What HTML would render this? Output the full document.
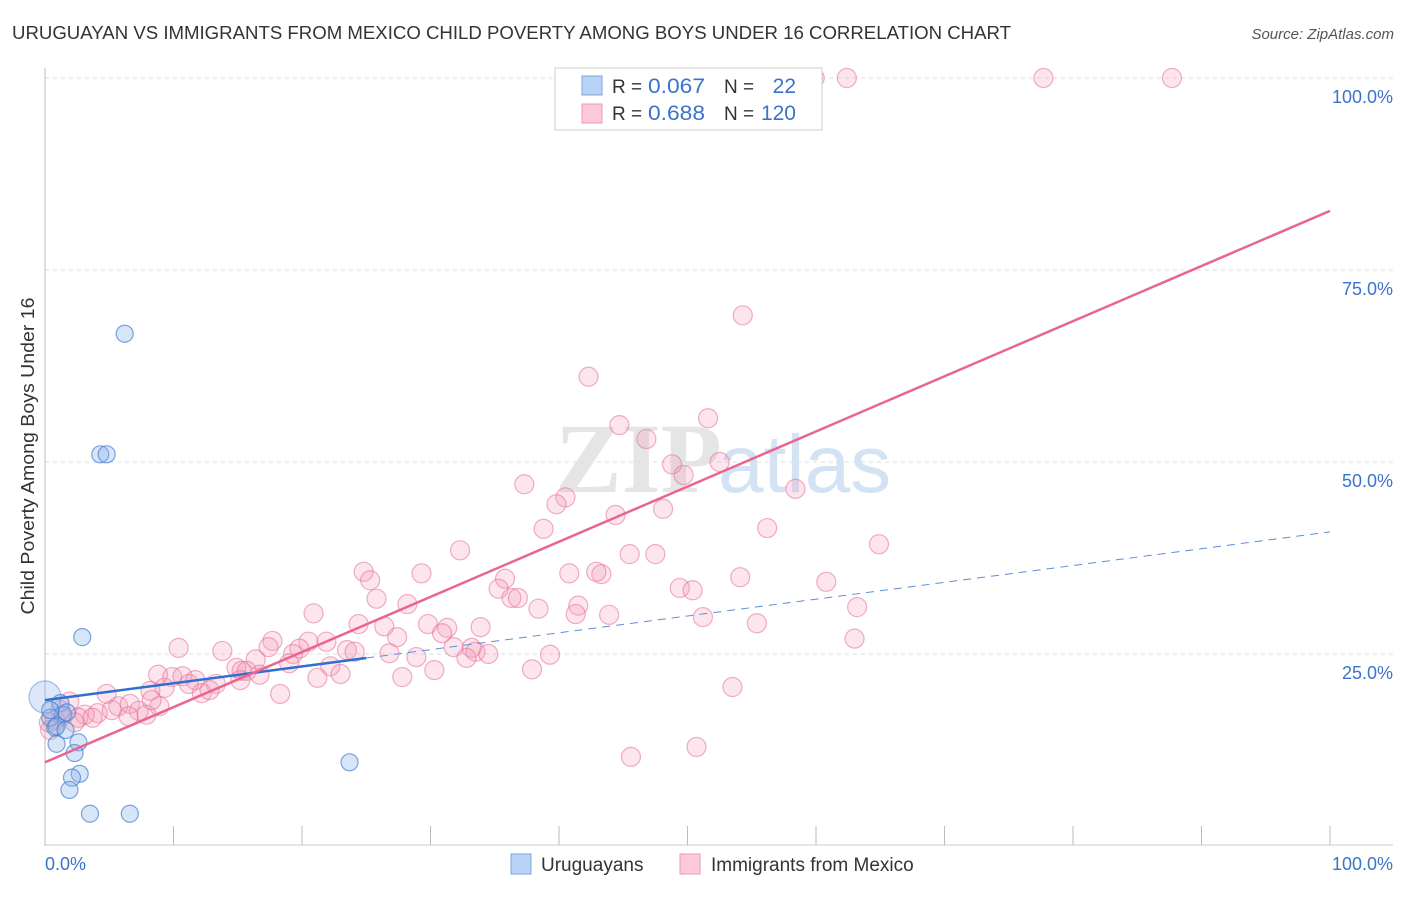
<!DOCTYPE html>
<html><head><meta charset="utf-8"><style>
body{margin:0;background:#fff;font-family:"Liberation Sans",sans-serif}
</style></head><body>
<svg id="chart" width="1406" height="892" xmlns="http://www.w3.org/2000/svg" font-family="Liberation Sans, sans-serif">
<text x="12" y="39" font-size="18" fill="#333" textLength="999" lengthAdjust="spacingAndGlyphs">URUGUAYAN VS IMMIGRANTS FROM MEXICO CHILD POVERTY AMONG BOYS UNDER 16 CORRELATION CHART</text>
<text x="1394" y="39" font-size="15" fill="#555" text-anchor="end" font-style="italic">Source: ZipAtlas.com</text>
<g opacity="0.5">
<text x="555" y="492" font-size="100" fill="#ccc" font-family="Liberation Serif, serif" font-weight="bold">ZIP</text>
<text x="718" y="492" font-size="82" fill="#aac8ea">atlas</text>
</g>
<g id="grid"></g>
<g id="axes"></g>
<g id="marks"></g>
<text transform="translate(34,456) rotate(-90)" font-size="18" fill="#333" text-anchor="middle" textLength="317" lengthAdjust="spacingAndGlyphs">Child Poverty Among Boys Under 16</text>
<g>
<rect x="555" y="68" width="267" height="62" fill="#fff" stroke="#ccc"/>
<rect x="582" y="76" width="20" height="19" fill="#b8d3f5" stroke="#7aa6e0"/>
<rect x="582" y="104" width="20" height="19" fill="#fcc9d8" stroke="#ee9cb5"/>
<text x="612" y="93" font-size="19" fill="#333">R =</text><text x="648" y="93" font-size="21" fill="#3a73c9" textLength="57" lengthAdjust="spacingAndGlyphs">0.067</text>
<text x="724" y="93" font-size="19" fill="#333">N =</text><text x="796" y="93" font-size="21" fill="#3a73c9" text-anchor="end">22</text>
<text x="612" y="120" font-size="19" fill="#333">R =</text><text x="648" y="120" font-size="21" fill="#3a73c9" textLength="57" lengthAdjust="spacingAndGlyphs">0.688</text>
<text x="724" y="120" font-size="19" fill="#333">N =</text><text x="796" y="120" font-size="21" fill="#3a73c9" text-anchor="end">120</text>
</g>
<g>
<rect x="511" y="854" width="20" height="20" fill="#b8d3f5" stroke="#7aa6e0"/>
<text x="541" y="871" font-size="19" fill="#333">Uruguayans</text>
<rect x="680" y="854" width="20" height="20" fill="#fcc9d8" stroke="#ee9cb5"/>
<text x="711" y="871" font-size="19" fill="#333">Immigrants from Mexico</text>
</g>
</svg>
<script>
const yTicks=[25,50,75,100];
const yTickLabels=["25.0%","50.0%","75.0%","100.0%"];
const xTickLabels=["0.0%","100.0%"];
const pinkX=[46.3,59.9,62.4,77.7,87.7,43.0,49.8,56.8,54.3,42.3,51.6,44.7,46.8,48.8,52.5,49.7,58.4,37.3,40.5,39.8,48.1,44.4,56.2,38.8,64.9,32.3,45.5,47.5,24.8,29.3,25.3,40.8,43.3,42.9,54.1,60.8,35.8,35.3,49.4,50.4,25.8,36.3,36.8,20.9,28.2,38.4,63.2,41.5,43.9,41.3,51.2,29.8,31.3,24.4,26.4,33.9,55.4,30.9,27.4,63.0,21.9,20.5,17.7,17.4,13.8,10.4,19.8,31.8,33.2,33.5,34.5,39.3,23.5,24.1,26.8,19.3,16.4,28.9,32.8,22.2,19.0,14.9,15.3,16.7,30.3,37.9,8.8,9.9,10.7,11.7,13.3,23.0,21.2,27.8,15.7,9.3,11.2,8.2,12.2,12.8,18.3,53.5,4.8,1.9,5.7,6.6,7.3,8.9,7.9,4.1,6.5,3.1,1.4,2.6,3.7,0.8,0.3,45.6,50.7,1.2,2.3,0.4,5.2,8.3,15.2];
const pinkY=[100,100,100,100,100,100,100,100,69.1,61.1,55.7,54.8,53.0,49.7,50.0,48.3,46.5,47.1,45.4,44.5,43.9,43.1,41.4,41.3,39.3,38.5,38.0,38.0,35.7,35.5,34.6,35.5,35.4,35.7,35.0,34.4,34.8,33.5,33.6,33.3,32.2,32.3,32.3,30.3,31.5,30.9,31.1,31.3,30.1,30.2,29.8,28.9,28.4,28.9,28.6,28.5,29.0,27.7,27.2,27.0,26.6,26.6,26.7,25.9,25.4,25.8,25.7,25.9,25.8,25.3,25.0,24.9,25.5,25.3,25.1,25.0,24.3,24.6,24.5,23.4,23.8,23.2,22.8,22.3,22.9,23.0,22.3,22.0,22.1,21.6,21.1,22.4,21.9,22.0,22.8,20.6,21.1,20.2,19.9,20.3,19.8,20.7,19.8,18.8,18.2,18.5,17.6,18.2,17.1,17.3,16.9,17.1,16.9,16.7,16.7,16.4,16.1,11.6,12.9,17.7,16.1,15.1,17.7,19.0,21.6];
const blueX=[6.2,4.3,4.8,2.9,1.2,1.4,1.7,0.8,0.4,0.9,2.6,0.9,2.3,2.7,2.1,1.9,23.7,3.5,6.6,1.6,0.4];
const blueY=[66.7,51.0,51.0,27.2,18.6,17.1,17.4,15.4,16.7,15.6,13.5,13.3,12.1,9.4,8.9,7.3,10.9,4.2,4.2,15.1,17.7];
const bigBlue=[0,19.4];
const pinkTrend=[10.9,82.7];
const blueTrend=[19.0,40.9];
const blueSolidEnd=25;

const NS="http://www.w3.org/2000/svg";
const X0=45,X1=1330,Y0=846,Y100=78;
const sx=v=>X0+(X1-X0)*v/100;
const sy=v=>Y0-(Y0-Y100)*v/100;
function mk(tag,attrs,parent){const e=document.createElementNS(NS,tag);for(const k in attrs)e.setAttribute(k,attrs[k]);parent.appendChild(e);return e;}
const grid=document.getElementById('grid'),axes=document.getElementById('axes'),marks=document.getElementById('marks');
yTicks.forEach((t,i)=>{
  const l=mk('line',{x1:45,x2:1393,y1:sy(t),y2:sy(t),stroke:'#ddd','stroke-dasharray':'4,4'},grid);
  
  
  const tx=mk('text',{x:1393,y:sy(t)+25,'font-size':18,fill:'#3a73c9','text-anchor':'end'},axes);
  tx.textContent=yTickLabels[i];
  
  
});
const ax=mk('line',{x1:45,x2:45,y1:68,y2:846,stroke:'#bbb'},axes);


const bx=mk('line',{x1:45,x2:1393,y1:845,y2:845,stroke:'#ccc'},axes);


for(let i=0;i<=10;i++){
  const t=mk('line',{x1:sx(i*10),x2:sx(i*10),y1:826,y2:845,stroke:'#bbb'},axes);
  
  
}
const xl0=mk('text',{x:45,y:870,'font-size':18,fill:'#3a73c9'},axes);xl0.textContent=xTickLabels[0];


const xl1=mk('text',{x:1393,y:870,'font-size':18,fill:'#3a73c9','text-anchor':'end'},axes);xl1.textContent=xTickLabels[1];



pinkX.forEach((x,i)=>{
  const c=mk('circle',{cx:sx(x),cy:sy(pinkY[i]),r:9.5,fill:'rgba(245,150,180,0.25)',stroke:'rgba(230,110,150,0.55)','stroke-width':1.2},marks);
  
  
});
const bb=mk('circle',{cx:sx(bigBlue[0]),cy:sy(bigBlue[1]),r:16,fill:'rgba(140,180,235,0.3)',stroke:'rgba(80,130,210,0.5)','stroke-width':1.2},marks);


blueX.forEach((x,i)=>{
  const c=mk('circle',{cx:sx(x),cy:sy(blueY[i]),r:8.5,fill:'rgba(140,180,235,0.35)',stroke:'rgba(70,125,210,0.7)','stroke-width':1.2},marks);
  
  
});
const bAt=x=>blueTrend[0]+(blueTrend[1]-blueTrend[0])*x/100;
const bd=mk('line',{x1:sx(blueSolidEnd),y1:sy(bAt(blueSolidEnd)),x2:sx(100),y2:sy(blueTrend[1]),stroke:'#5a8fd8','stroke-width':1,'stroke-dasharray':'8,6'},marks);


const bs=mk('line',{x1:sx(0),y1:sy(blueTrend[0]),x2:sx(blueSolidEnd),y2:sy(bAt(blueSolidEnd)),stroke:'#2f6fd0','stroke-width':2.5},marks);


const pt=mk('line',{x1:sx(0),y1:sy(pinkTrend[0]),x2:sx(100),y2:sy(pinkTrend[1]),stroke:'#e8658f','stroke-width':2.5},marks);


</script>
</body></html>
